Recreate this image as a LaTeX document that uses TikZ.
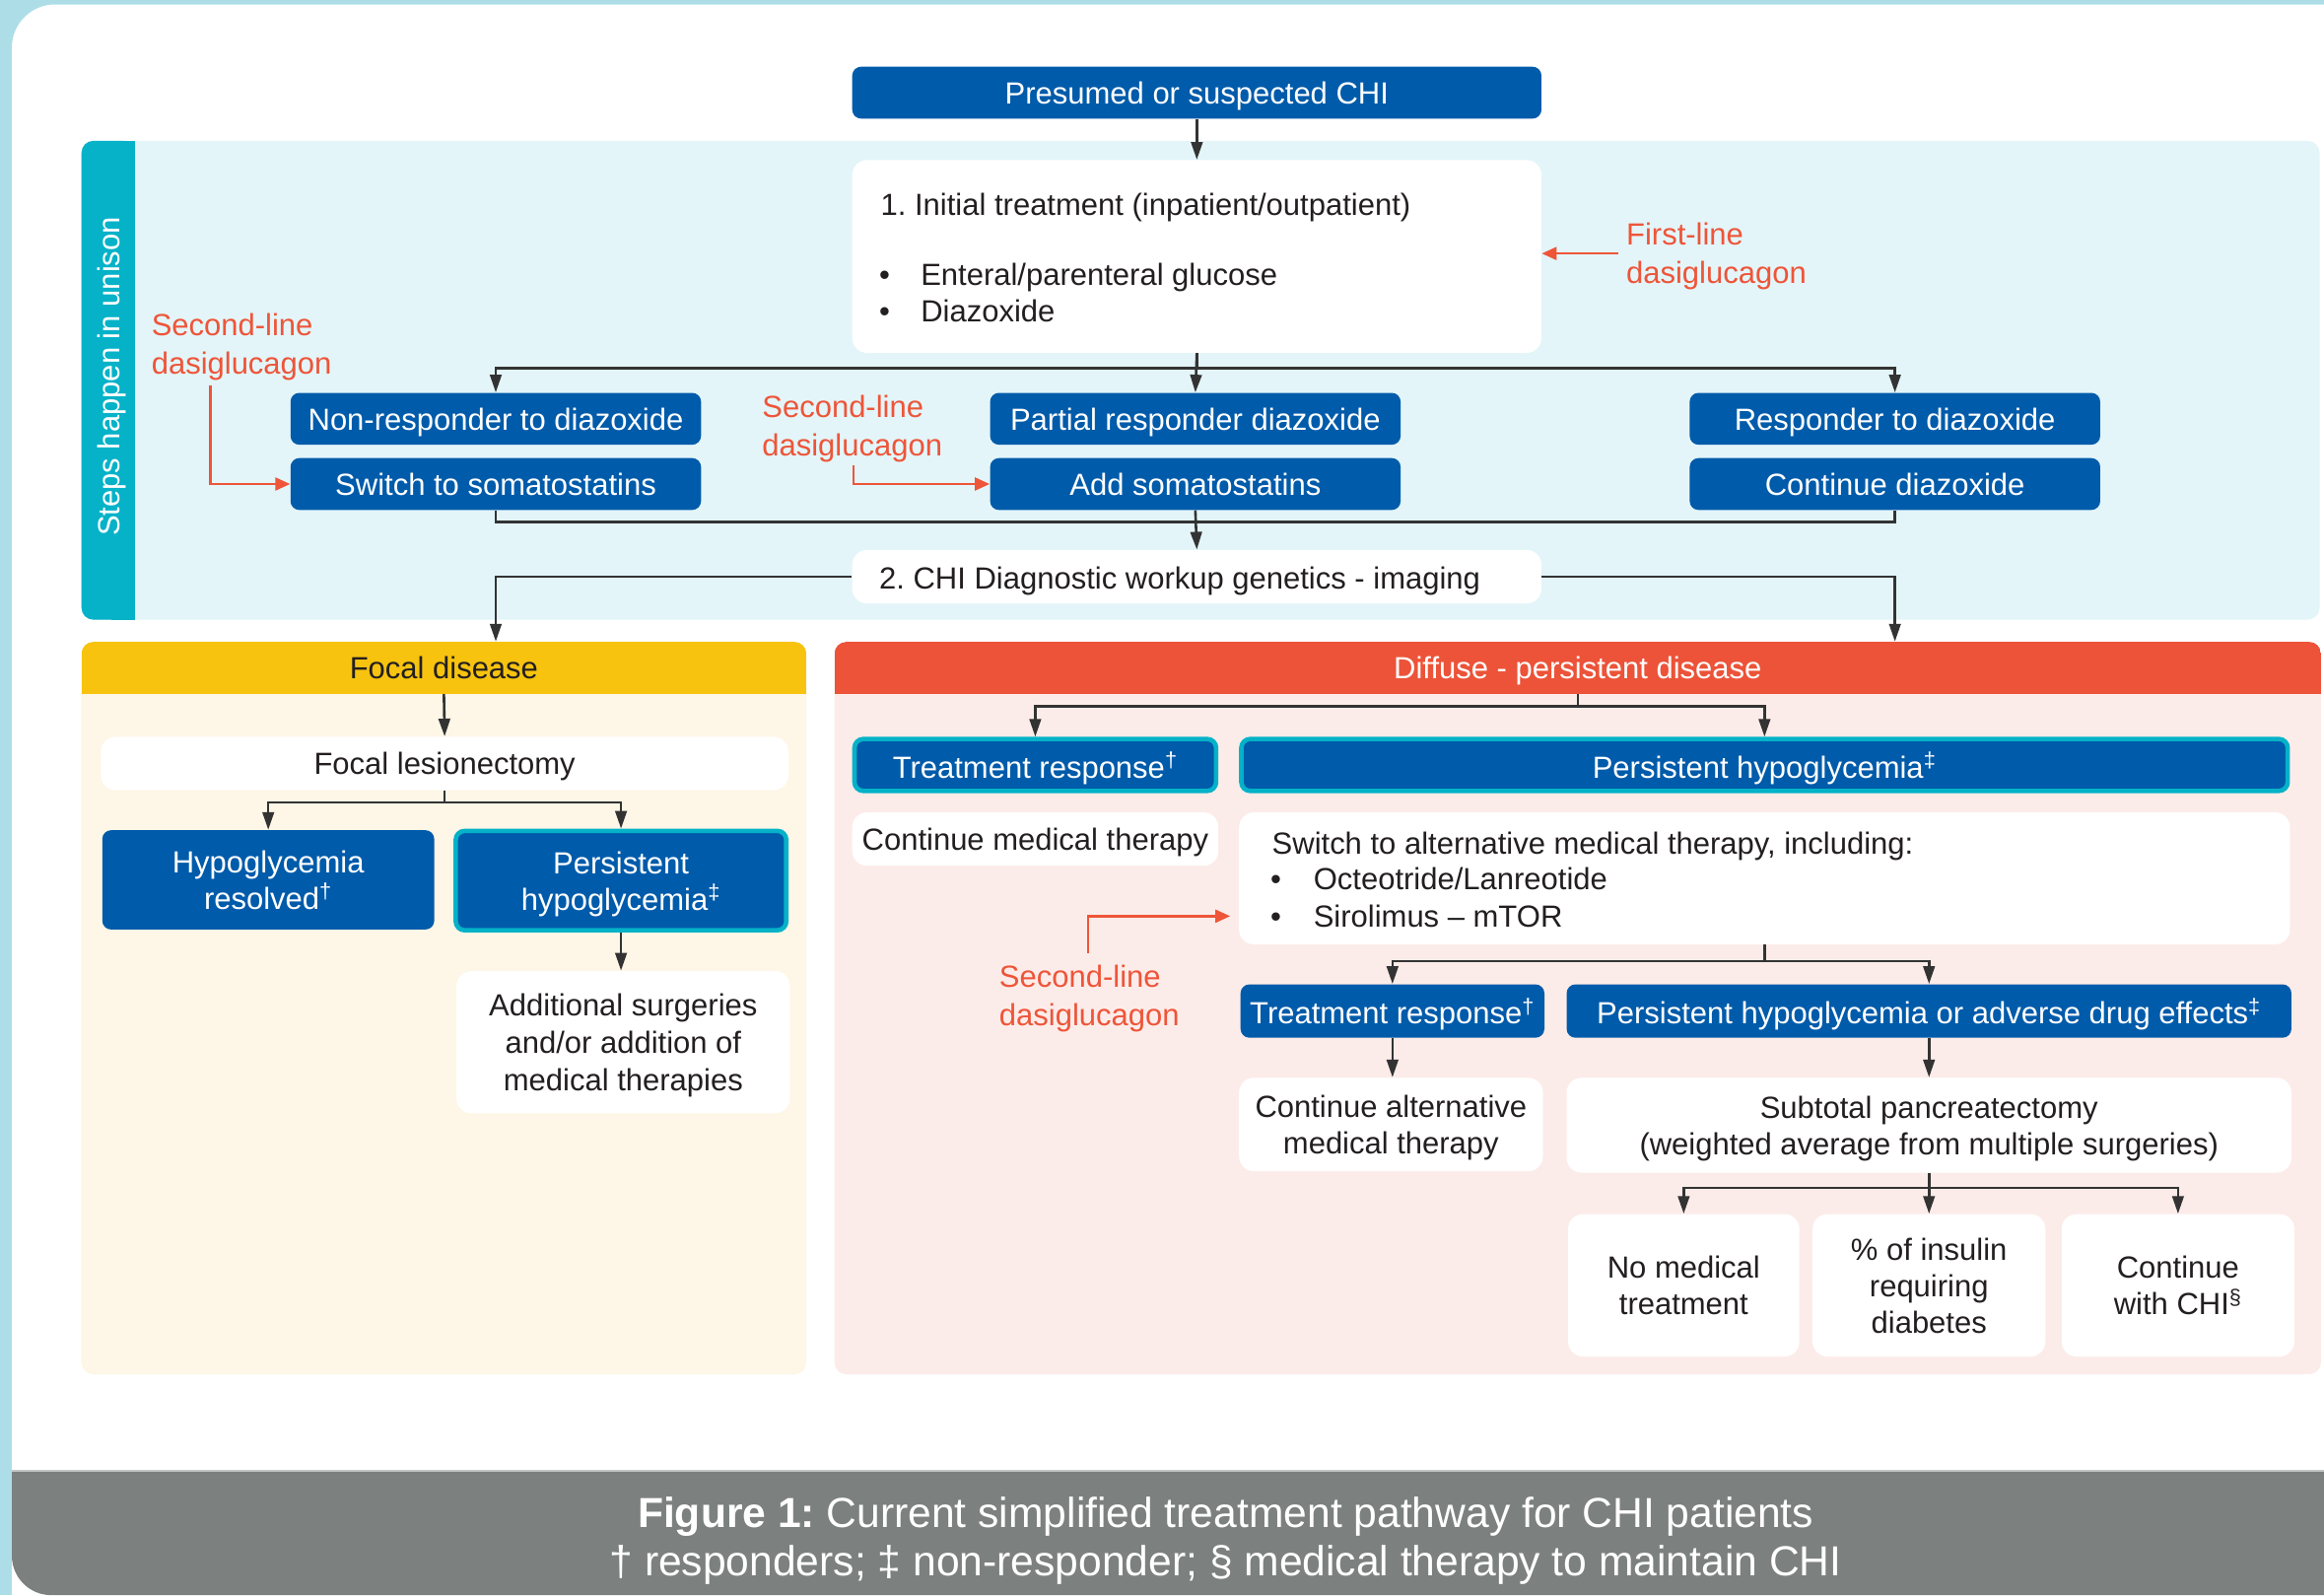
\documentclass[tikz,border=0pt]{standalone}
\usepackage{fontspec}
\setmainfont{Liberation Sans}
\usetikzlibrary{arrows.meta,calc}
\definecolor{bgblue}{HTML}{ADDEE8}
\definecolor{cpanel}{HTML}{E3F5F9}
\definecolor{cteal}{HTML}{05B2C8}
\definecolor{cblue}{HTML}{005BAA}
\definecolor{cred}{HTML}{EE5539}
\definecolor{cyel}{HTML}{F7C30F}
\definecolor{cyelbg}{HTML}{FEF6E6}
\definecolor{cdiff}{HTML}{EC5338}
\definecolor{cdiffbg}{HTML}{FCECE9}
\definecolor{cgray}{HTML}{7C8180}
\definecolor{cgrayline}{HTML}{C3C6C6}
\definecolor{ctext}{HTML}{231F20}
\definecolor{cline}{HTML}{333333}
\newcommand\pxu{0.752pt}
\frenchspacing
\begin{document}
\begin{tikzpicture}[x=0.752pt,y=-0.752pt,
  every node/.style={font=\fontsize{15.5}{18.5}\selectfont, inner sep=0pt, text depth=0pt},
  sz/.style 2 args={minimum width=#1*\pxu, minimum height=#2*\pxu},
  bluebox/.style={fill=cblue, text=white, rounded corners=4.5pt, align=center},
  tealbox/.style={bluebox, draw=cteal, line width=2.3pt},
  whitebox/.style={fill=white, text=ctext, rounded corners=7.5pt, align=center},
  txt/.style={text=ctext, anchor=west, text height=11pt},
  redtxt/.style={text=cred, align=left, anchor=west, font=\fontsize{15.5}{19.5}\selectfont},
  arr/.style={draw=cline, line width=1.3pt, -{Triangle[length=9pt,width=5.8pt]}},
  ln/.style={draw=cline, line width=1.3pt},
  redarr/.style={draw=cred, line width=1.2pt, -{Triangle[length=7.5pt,width=6.5pt]}},
]
\useasboundingbox (0,0) rectangle (1568,1076);
% background frame
\fill[bgblue] (0,0) rectangle (1568,1076);
\fill[white, rounded corners=22pt] (8,3) rectangle (1620,1200);
\begin{scope}
  \clip (0,992) rectangle (1568,1076);
  \fill[cgray, rounded corners=20pt] (8,900) rectangle (1620,1076);
\end{scope}
\fill[cgrayline] (8,991.5) rectangle (1568,993);
% unison panel
\fill[cpanel, rounded corners=6pt] (55,95) rectangle (1565,418);
\fill[cteal, rounded corners=6pt] (55,95) rectangle (91,418);
\fill[cteal] (75,95) rectangle (91,418);
\node[rotate=90, text=white] (unison) at (73,254) {Steps happen in unison};
% focal panel
\fill[cyelbg, rounded corners=6pt] (55,433) rectangle (544,927);
\begin{scope}
  \clip[rounded corners=6pt] (55,433) rectangle (544,927);
  \fill[cyel] (55,433) rectangle (544,468);
\end{scope}
% diffuse panel
\fill[cdiffbg, rounded corners=6pt] (563,433) rectangle (1566,927);
\begin{scope}
  \clip[rounded corners=6pt] (563,433) rectangle (1566,927);
  \fill[cdiff] (563,433) rectangle (1566,468);
\end{scope}

% top part
\node[bluebox, sz={465}{35}] (presumed) at (807.5,62.5) {Presumed or suspected CHI};
\node[whitebox, sz={465}{130}] (initial) at (807.5,173) {};
\node[txt] (it1) at (594,138) {1. Initial treatment (inpatient/outpatient)};
\node[txt] (itb1) at (593,185) {•};
\node[txt] (it2) at (621,185) {Enteral/parenteral glucose};
\node[txt] (itb2) at (593,210) {•};
\node[txt] (it3) at (621,210) {Diazoxide};
\node[redtxt] (fl) at (1097,171) {First-line\\dasiglucagon};

\node[bluebox, sz={277}{35}] (nonresp) at (334.5,282.5) {Non-responder to diazoxide};
\node[bluebox, sz={277}{35}] (switch) at (334.5,326.5) {Switch to somatostatins};
\node[bluebox, sz={277}{35}] (partial) at (806.5,282.5) {Partial responder diazoxide};
\node[bluebox, sz={277}{35}] (addsom) at (806.5,326.5) {Add somatostatins};
\node[bluebox, sz={277}{35}] (resp) at (1278.5,282.5) {Responder to diazoxide};
\node[bluebox, sz={277}{35}] (contdiaz) at (1278.5,326.5) {Continue diazoxide};
\node[redtxt] (sl1) at (102,232) {Second-line\\dasiglucagon};
\node[redtxt] (sl2) at (514,287) {Second-line\\dasiglucagon};
\coordinate (r1s) at (142,260);
\coordinate (r2s) at (576,314);

\node[whitebox, sz={465}{36}] (diag) at (807.5,389) {};
\node[txt] (diagt) at (593,390) {2. CHI Diagnostic workup genetics - imaging};

% focal
\node[text=ctext, sz={489}{35}] (focalhead) at (299.5,450.5) {Focal disease};
\node[whitebox, sz={464}{36}] (lesion) at (300,515) {Focal lesionectomy};
\node[bluebox, sz={224}{67}] (hypres) at (181,593.5) {Hypoglycemia\\resolved\textsuperscript{†}};
\node[tealbox, sz={223}{67}] (perhyp) at (419,594) {Persistent\\hypoglycemia\textsuperscript{‡}};
\node[whitebox, sz={225}{96}, font=\fontsize{15.5}{19}\selectfont] (additional) at (420.5,703) {Additional surgeries\\and/or addition of\\medical therapies};

% diffuse
\node[text=white, sz={1003}{35}] (diffhead) at (1064.5,450.5) {Diffuse - persistent disease};
\node[tealbox, sz={244}{35}] (tr1) at (698.5,516) {Treatment response\textsuperscript{†}};
\node[tealbox, sz={706}{35}] (ph1) at (1190.5,516) {Persistent hypoglycemia\textsuperscript{‡}};
\node[whitebox, sz={247}{36}] (contmed) at (698.5,566) {Continue medical therapy};
\node[whitebox, sz={709}{89}] (switchalt) at (1190.5,592.5) {};
\node[txt] (sa1) at (858,569) {Switch to alternative medical therapy, including:};
\node[txt] (sb1) at (857,593) {•};
\node[txt] (sa2) at (886,593) {Octeotride/Lanreotide};
\node[txt] (sb2) at (857,618) {•};
\node[txt] (sa3) at (886,618) {Sirolimus – mTOR};
\node[redtxt] (sl3) at (674,671.5) {Second-line\\dasiglucagon};
\coordinate (r3s) at (734,643);
\coordinate (t3) at (830,618);

\node[bluebox, sz={205}{36}] (tr2) at (939.5,682) {Treatment response\textsuperscript{†}};
\node[bluebox, sz={489}{36}] (ph2) at (1301.5,682) {Persistent hypoglycemia or adverse drug effects\textsuperscript{‡}};
\node[whitebox, sz={205}{63}] (contalt) at (938.5,758.5) {Continue alternative\\medical therapy};
\node[whitebox, sz={489}{64}] (subtotal) at (1301.5,759) {Subtotal pancreatectomy\\(weighted average from multiple surgeries)};
\node[whitebox, sz={156}{96}] (nomed) at (1136,867) {No medical\\treatment};
\node[whitebox, sz={157}{96}] (insulin) at (1301.5,867) {\% of insulin\\requiring\\diabetes};
\node[whitebox, sz={157}{96}] (contchi) at (1469.5,867) {Continue\\with CHI\textsuperscript{§}};

% caption
\node[text=white, align=center, font=\fontsize{21.3}{24.8}\selectfont] (caption) at (827,1036.5)
  {\textbf{Figure 1:} Current simplified treatment pathway for CHI patients\\† responders; ‡ non-responder; § medical therapy to maintain CHI};

% connectors
\draw[arr] (presumed.south) -- (initial.north);
\draw[arr] (initial.south) -- ++(0,10) -| (nonresp.north);
\draw[arr] (initial.south) -- (partial.north);
\draw[arr] (initial.south) -- ++(0,10) -| (resp.north);
\draw[ln] (switch.south) -- ++(0,8) -| (contdiaz.south);
\draw[arr] (addsom.south) -- (diag.north);
\draw[arr] (diag.west) -| (nonresp.south |- focalhead.north);
\draw[arr] (diag.east) -| (resp.south |- diffhead.north);

\draw[redarr] ($(fl.west)+(-5,0)$) -- (fl.west -| initial.east);
\draw[redarr] (r1s) |- (switch.west);
\draw[redarr] (r2s) |- (addsom.west);
\draw[redarr] (r3s) |- (t3);

\draw[arr] (focalhead.south) -- (lesion.north);
\draw[arr] (lesion.south) -- ++(0,8) -| (hypres.north);
\draw[arr] (lesion.south) -- ++(0,8) -| (perhyp.north);
\draw[arr] (perhyp.south) -- (perhyp.south |- additional.north);

\draw[arr] (diffhead.south) -- ++(0,8) -| (tr1.north);
\draw[arr] (diffhead.south) -- ++(0,8) -| (ph1.north);
\draw[arr] (switchalt.south) -- ++(0,11) -| (tr2.north);
\draw[arr] (switchalt.south) -- ++(0,11) -| (ph2.north);
\draw[arr] (tr2.south) -- (tr2.south |- contalt.north);
\draw[arr] (ph2.south) -- (subtotal.north);
\draw[arr] (subtotal.south) -- ++(0,10) -| (nomed.north);
\draw[arr] (subtotal.south) -- (insulin.north);
\draw[arr] (subtotal.south) -- ++(0,10) -| (contchi.north);
\end{tikzpicture}
\end{document}
